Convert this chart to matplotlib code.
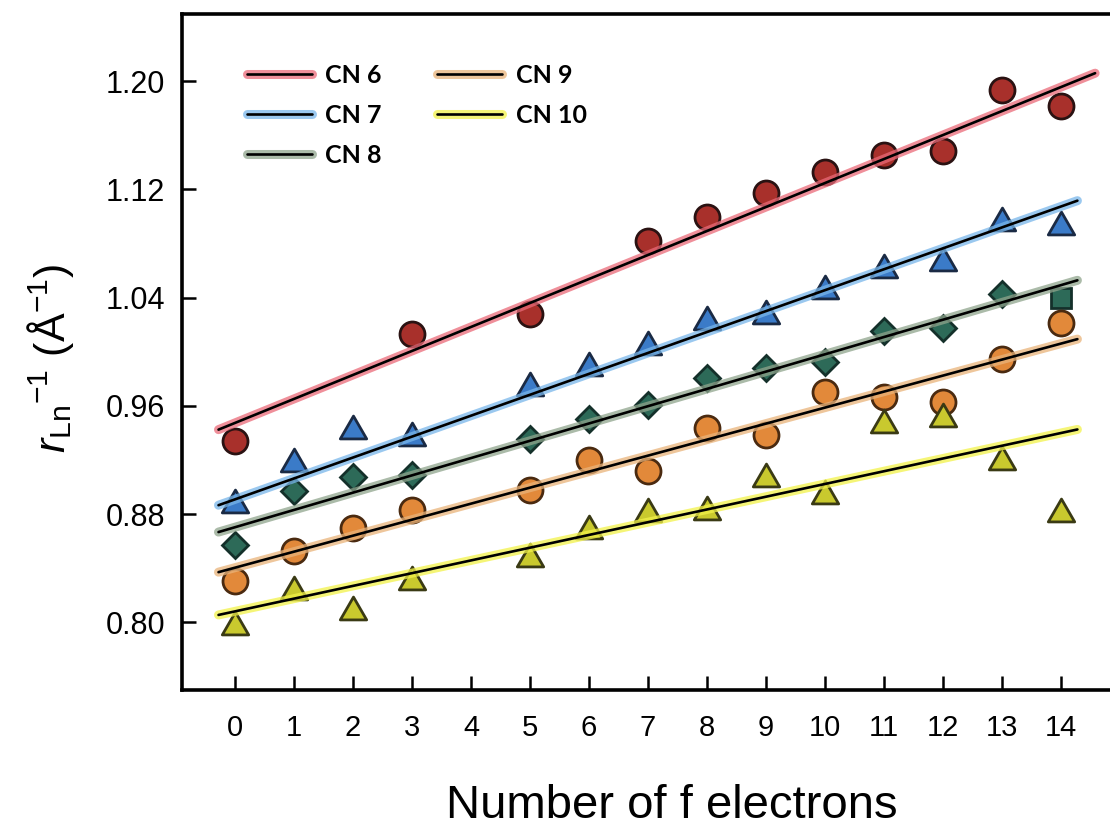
import numpy as np
import matplotlib
matplotlib.use("Agg")
import matplotlib.pyplot as plt
import matplotlib.patheffects as pe
from matplotlib.path import Path

plt.rcParams["font.family"] = "Liberation Sans"
plt.rcParams["mathtext.fontset"] = "custom"
plt.rcParams["mathtext.rm"] = "Liberation Sans"
plt.rcParams["mathtext.it"] = "Liberation Sans:italic"

# inverse ionic radii (1/A) vs number of 4f electrons
f_all = [0, 1, 2, 3, 5, 6, 7, 8, 9, 10, 11, 12, 13, 14]
f_cn6 = [0, 3, 5, 7, 8, 9, 10, 11, 12, 13, 14]
f_cn8 = [0, 1, 2, 3, 5, 6, 7, 8, 9, 10, 11, 12, 13]

cn6 = [0.9337, 1.0132, 1.0279, 1.0818, 1.0995, 1.1172, 1.1327, 1.1452, 1.1484, 1.1937, 1.1813]
cn7 = [0.8895, 0.9202, 0.9446, 0.9394, 0.9763, 0.9910, 1.0065, 1.0250, 1.0294, 1.0478,
       1.0633, 1.0685, 1.0980, 1.0948]
cn8 = [0.8570, 0.8969, 0.9075, 0.9092, 0.9357, 0.9505, 0.9608, 0.9807, 0.9881, 0.9927,
       1.0156, 1.0174, 1.0427]
cn8_lu_f = [14]
cn8_lu = [1.0394]
cn9 = [0.8305, 0.8526, 0.8699, 0.8829, 0.8981, 0.9202, 0.9121, 0.9439, 0.9387, 0.9699,
       0.9669, 0.9632, 0.9947, 1.0211]
cn10 = [0.7993, 0.8256, 0.8106, 0.8325, 0.8500, 0.8708, 0.8833, 0.8848, 0.9092, 0.8964,
        0.9485, 0.9534, 0.9215, 0.8829]

# linear fits, one per coordination number
fit_slope = [0.01773, 0.01546, 0.01278, 0.01183, 0.009416]
fit_intercept = [0.9474, 0.8909, 0.8703, 0.8404, 0.8081]

labels = ["CN 6", "CN 7", "CN 8", "CN 9", "CN 10"]
fills = ["#a8302b", "#3b7bc8", "#2d6a58", "#e2893a", "#c9c92e"]
edges = ["#2a1212", "#1a2a44", "#14302a", "#4a2a10", "#3a3a14"]
glows = ["#ea6a78", "#79b6ea", "#8fa48c", "#e9b37a", "#f2f24a"]
line_end = [14.58, 14.28, 14.28, 14.28, 14.28]

tri = Path([(-1, -0.866), (1, -0.866), (0, 0.866), (0, 0)], closed=True)

fig = plt.figure(figsize=(11.1, 8.3), dpi=100)
ax = fig.add_axes([0.1639, 0.1687, 0.845, 0.815])

series = [
    (f_cn6, cn6, "o", 18),
    (f_all, cn7, tri, 19),
    (f_cn8, cn8, "D", 13.5),
    (f_all, cn9, "o", 18),
    (f_all, cn10, tri, 19),
]

for i, (x, y, mk, ms) in enumerate(series):
    ax.plot(x, y, linestyle="none", marker=mk, markersize=ms,
            markerfacecolor=fills[i], markeredgecolor=edges[i],
            markeredgewidth=2, zorder=2)
    if i == 2:
        ax.plot(cn8_lu_f, cn8_lu, linestyle="none", marker="s", markersize=15,
                markerfacecolor=fills[i], markeredgecolor=edges[i],
                markeredgewidth=2, zorder=2)

    xx = np.array([-0.28, line_end[i]])
    ax.plot(xx, fit_intercept[i] + fit_slope[i] * xx, color="black", lw=1.9,
            zorder=3, solid_capstyle="round", label=labels[i],
            path_effects=[pe.Stroke(linewidth=6.5, foreground=glows[i], alpha=0.75),
                          pe.Normal()])

ax.set_xlim(-0.9, 15.0)
ax.set_ylim(0.75, 1.25)
ax.set_xticks(range(0, 15))
ax.set_yticks([0.80, 0.88, 0.96, 1.04, 1.12, 1.20])
ax.set_yticklabels(["%.2f" % v for v in [0.80, 0.88, 0.96, 1.04, 1.12, 1.20]])

for s in ax.spines.values():
    s.set_linewidth(2.6)
ax.tick_params(direction="in", length=10, width=1.8)
ax.tick_params(axis="y", labelsize=22, pad=12)
ax.tick_params(axis="x", labelsize=21, pad=17)

leg = ax.legend(loc="upper left", bbox_to_anchor=(0.069, 0.926), ncol=2,
                frameon=False, borderpad=0, borderaxespad=0,
                handlelength=2.6, handletextpad=0.55, columnspacing=2.2,
                labelspacing=0.68,
                prop={"family": "Lato", "weight": "bold", "size": 18})

fig.text(50 / 1110, 1 - 358 / 830, r"$r_{\mathrm{Ln}}{}^{-1}$ (Å$^{-1}$)",
         rotation=90, ha="center", va="center", fontsize=31)
fig.text(672 / 1110, 1 - 806 / 830, "Number of f electrons",
         ha="center", va="center", fontsize=34)

fig.savefig("out.png", dpi=100)
